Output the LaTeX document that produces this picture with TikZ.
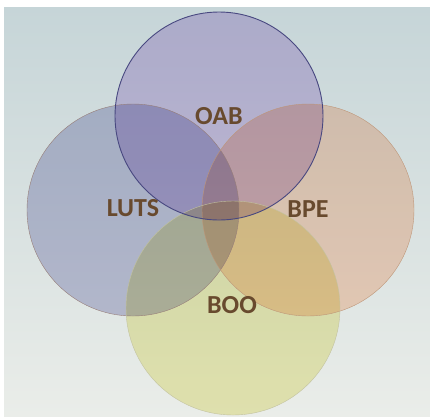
\documentclass[tikz,border=0pt]{standalone}
\usepackage{fontspec}
\setmainfont{Carlito}
\usetikzlibrary{positioning}
\definecolor{bg_top}{RGB}{198,213,216}
\definecolor{bg_bottom}{RGB}{234,237,233}
\definecolor{oab_fill}{RGB}{221,205,238}
\definecolor{luts_fill}{RGB}{202,202,226}
\definecolor{bpe_fill}{RGB}{255,220,200}
\definecolor{boo_fill}{RGB}{244,242,190}
\definecolor{oab_line}{RGB}{72,72,128}
\definecolor{luts_line}{RGB}{150,125,120}
\definecolor{bpe_line}{RGB}{190,150,120}
\definecolor{boo_line}{RGB}{195,195,160}
\definecolor{label_brown}{RGB}{104,74,46}
\tikzset{
venn_circle/.style={
	% The shape:
	circle,
	% The size:
	minimum size=212pt,
	inner sep=0pt,
	% The border:
	draw=#1,
	thin
},
venn_label/.style={
	% Font
	font=\bfseries\fontsize{26}{28}\selectfont,
	text=label_brown
}
}

\begin{document}
\begin{tikzpicture}[x=1pt, y=-1pt]
			\useasboundingbox (0,0) rectangle (430,416);
			\fill[white] (0,0) rectangle (430,416);
			\shade[top color=bg_top, bottom color=bg_bottom] (4,7) rectangle (430,416);

			% coloured discs, multiplied so the overlaps get darker
			\begin{scope}[blend mode=multiply]
				\fill[luts_fill] (133,210) circle (106);
				\fill[bpe_fill] (308,210) circle (106);
				\fill[boo_fill] (233,308) circle (107);
				\fill[oab_fill] (219,116) circle (104);
			\end{scope}

			% outlines and labels
			\node[venn_circle=luts_line] (luts) at (133,210) {};
			\node[venn_circle=bpe_line] (bpe) at (308,210) {};
			\node[venn_circle=boo_line, minimum size=214pt] (boo) at (233,308) {};
			\node[venn_circle=oab_line, minimum size=208pt, line width=0.9pt] (oab) at (219,116) {};

			\node[venn_label] at (oab.center) {OAB};
			\node[venn_label] at ([yshift=2pt]luts.center) {LUTS};
			\node[venn_label] at ([yshift=1pt]bpe.center) {BPE};
			\node[venn_label] at ([xshift=-1pt, yshift=3pt]boo.center) {BOO};
		\end{tikzpicture}
\end{document}
